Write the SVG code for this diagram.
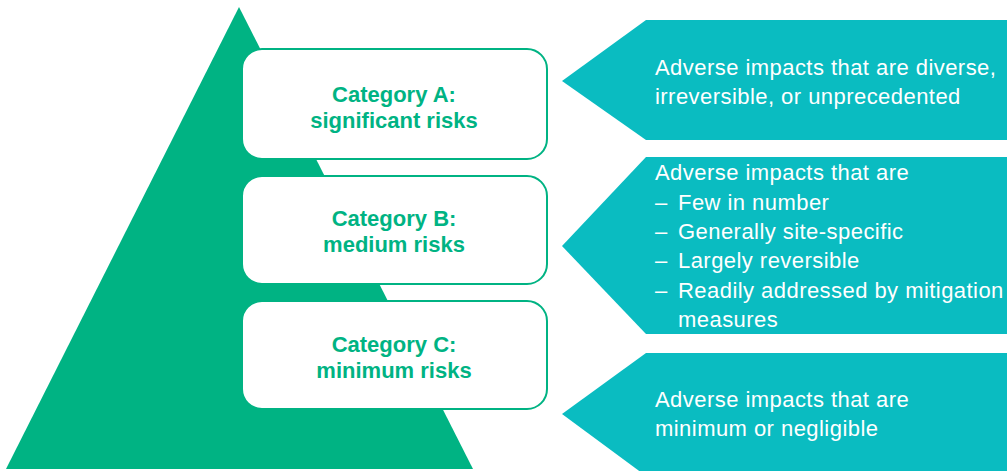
<svg xmlns="http://www.w3.org/2000/svg" width="1007" height="471" viewBox="0 0 1007 471">
<style>
.box{fill:#ffffff;stroke:#00b383;stroke-width:2}
.cat{font-family:"Liberation Sans",Arial,sans-serif;font-weight:bold;font-size:22px;fill:#00b383;text-anchor:middle}
.arrow{fill:#0abcc1}
.desc{font-family:"Liberation Sans",Arial,sans-serif;font-size:22px;letter-spacing:0.45px;fill:#ffffff}
</style>
<rect width="1007" height="471" fill="#ffffff"/>
<g id="pyramid">
<polygon points="239,7 473,469 6,469" fill="#00b383"/>
</g>
<g id="connectors"></g>
<g id="catA">
<rect class="box" x="242" y="49" width="305" height="110" rx="20"/>
<text class="cat" x="394" y="102">Category A:</text>
<text class="cat" x="394" y="128">significant risks</text>
</g>
<g id="catB">
<rect class="box" x="242" y="176" width="305" height="108" rx="20"/>
<text class="cat" x="394" y="226">Category B:</text>
<text class="cat" x="394" y="252">medium risks</text>
</g>
<g id="catC">
<rect class="box" x="242" y="301" width="305" height="108" rx="20"/>
<text class="cat" x="394" y="352">Category C:</text>
<text class="cat" x="394" y="378">minimum risks</text>
</g>
<g id="descA">
<polygon class="arrow" points="562,81 646,20 1007,20 1007,140 646,140"/>
<text class="desc" x="655" y="75">Adverse impacts that are diverse,</text>
<text class="desc" x="655" y="104">irreversible, or unprecedented</text>
</g>
<g id="descB">
<polygon class="arrow" points="562,246 646,157 1007,157 1007,334 646,334"/>
<text class="desc" x="655" y="180">Adverse impacts that are</text>
<text class="desc" y="210"><tspan x="655">–</tspan><tspan x="678">Few in number</tspan></text>
<text class="desc" y="239"><tspan x="655">–</tspan><tspan x="678">Generally site-specific</tspan></text>
<text class="desc" y="268"><tspan x="655">–</tspan><tspan x="678">Largely reversible</tspan></text>
<text class="desc" y="298"><tspan x="655">–</tspan><tspan x="678">Readily addressed by mitigation</tspan></text>
<text class="desc" x="678" y="327">measures</text>
</g>
<g id="descC">
<polygon class="arrow" points="562,414 646,353 1007,353 1007,476 646,476"/>
<text class="desc" x="655" y="407">Adverse impacts that are</text>
<text class="desc" x="655" y="436">minimum or negligible</text>
</g>
</svg>
